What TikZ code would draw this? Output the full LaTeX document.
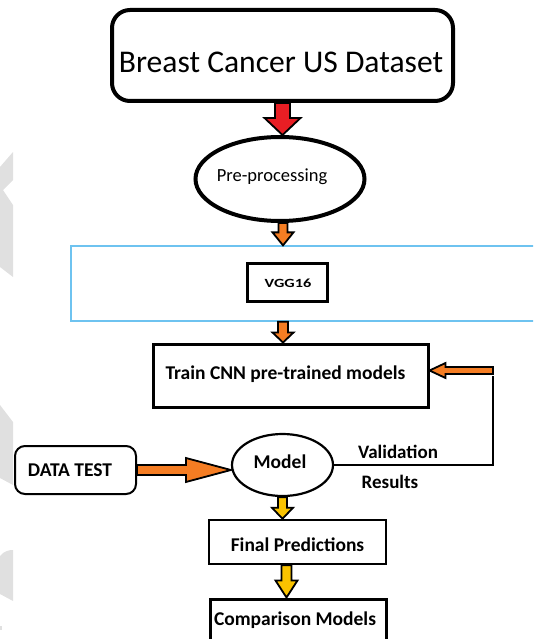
\documentclass[tikz,border=0pt]{standalone}
\usepackage{fontspec}
\setmainfont{Carlito}
\usetikzlibrary{shapes.geometric,calc}

\definecolor{arrred}{RGB}{232,30,36}
\definecolor{arrorange}{RGB}{245,125,35}
\definecolor{arryellow}{RGB}{250,195,0}
\definecolor{framblue}{RGB}{110,195,240}
\definecolor{markgray}{RGB}{224,224,224}

\tikzset{
  boxline/.style={draw=black, fill=white, inner sep=0pt},
  blockline/.style={draw=black, line width=1.8pt, line join=miter},
  lbl/.style={inner sep=0pt, font=\fontsize{19.5}{20}\selectfont\bfseries},
}

% downward block arrow: from, to, shaft half width, head half width, head length, fill
\newcommand\blockdown[6]{%
  \draw[blockline, fill=#6] let \p1=(#1), \p2=(#2) in
    (\x1-#3,\y1) -- (\x1+#3,\y1) -- (\x1+#3,\y2+#5) -- (\x1+#4,\y2+#5)
    -- (\x1,\y2) -- (\x1-#4,\y2+#5) -- (\x1-#3,\y2+#5) -- cycle;}
% rightward block arrow
\newcommand\blockright[6]{%
  \draw[blockline, fill=#6] let \p1=(#1), \p2=(#2) in
    (\x1,\y1+#3) -- (\x2-#5,\y1+#3) -- (\x2-#5,\y1+#4) -- (\x2,\y1)
    -- (\x2-#5,\y1-#4) -- (\x2-#5,\y1-#3) -- (\x1,\y1-#3) -- cycle;}
% leftward block arrow
\newcommand\blockleft[6]{%
  \draw[blockline, fill=#6] let \p1=(#1), \p2=(#2) in
    (\x1,\y1+#3) -- (\x2+#5,\y1+#3) -- (\x2+#5,\y1+#4) -- (\x2,\y1)
    -- (\x2+#5,\y1-#4) -- (\x2+#5,\y1-#3) -- (\x1,\y1-#3) -- cycle;}

\begin{document}
\begin{tikzpicture}[x=1pt, y=-1pt]
\useasboundingbox (0,0) rectangle (533,639);
\clip (0,0) rectangle (533,639);

% pale marks along the left edge
\fill[markgray] (0,167) -- (13,152) -- (13,180) -- (3,190) -- (13,205) -- (13,277) -- (0,267) -- cycle;
\fill[markgray] (0,405) -- (13,422) -- (13,485) -- (0,478) -- cycle;
\fill[markgray] (0,556) .. controls (4,551) and (9,550) .. (13,550) -- (13,601) -- (0,594) -- cycle;
\fill[markgray] (0,626) rectangle (2,630);

% boxes
\node[boxline, rounded corners=18pt, line width=4pt, minimum width=341pt, minimum height=91pt] (ds) at (282.5,55.5) {};
\node[inner sep=0pt, font=\fontsize{31.6}{32}\selectfont] (dsT) at (281,62) {Breast Cancer US Dataset};

\node[boxline, ellipse, line width=4pt, minimum width=169pt, minimum height=84pt] (pre) at (280,179) {};
\node[inner sep=0pt, font=\fontsize{18.5}{19}\selectfont] (preT) at (272,177) {Pre-processing};

\node[draw=framblue, line width=1.3pt, minimum width=470pt, minimum height=75pt, inner sep=0pt] (frame) at (306,283.5) {};

\node[boxline, line width=3pt, minimum width=80pt, minimum height=38pt] (vgg) at (287,282.5) {};
\node[inner sep=0pt, font=\fontsize{12.5}{13}\selectfont\bfseries] (vggT) at (288,283) {\scalebox{1.3}[1]{VGG16}};

\node[boxline, line width=3pt, minimum width=275pt, minimum height=63pt] (train) at (290.5,375.5) {};
\node[lbl] (trainT) at (285.5,374) {Train CNN pre-trained models};

\node[boxline, ellipse, line width=2.2pt, minimum width=101pt, minimum height=62pt] (model) at (282.5,465) {};
\node[lbl] (modelT) at (280,462) {Model};

\node[boxline, rounded corners=10pt, line width=2pt, minimum width=121pt, minimum height=48pt] (dt) at (75.5,470) {};
\node[lbl] (dtT) at (70,470) {DATA TEST};

\node[boxline, line width=2.5pt, minimum width=177pt, minimum height=44pt] (fp) at (297.5,542) {};
\node[lbl] (fpT) at (297.5,545) {Final Predictions};

\node[boxline, line width=3pt, minimum width=176pt, minimum height=52pt] (cm) at (298,625) {};
\node[lbl] (cmT) at (295,620) {Comparison Models};

% feedback line with labels
\coordinate (fb) at (493,465);
\draw[line width=2pt] (model.east) -- (fb) -- (fb |- train.east);
\node[lbl, font=\fontsize{19}{20}\selectfont\bfseries] (valT) at (398,452) {Validation};
\node[lbl, font=\fontsize{19}{20}\selectfont\bfseries] (resT) at (390,482) {Results};

% block arrows
\blockdown{ds.south}{pre.north}{7.5pt}{18pt}{17pt}{arrred}
\blockdown{$(pre.south)+(3,0)$}{frame.north}{4.5pt}{10.5pt}{13pt}{arrorange}
\blockdown{$(vgg.south |- frame.south)+(-4,0)$}{train.north}{5pt}{10.5pt}{10pt}{arrorange}
\blockdown{model.south}{fp.north}{4.5pt}{10.5pt}{11pt}{arryellow}
\blockdown{$(model.south |- fp.south)+(4,0)$}{cm.north}{5pt}{11pt}{17pt}{arryellow}
\blockright{dt.east}{model.west}{5pt}{12pt}{45pt}{arrorange}
\blockleft{$(fb |- train.east)+(0,-5)$}{$(train.east)+(0,-5)$}{3.5pt}{7.5pt}{16pt}{arrorange}
\end{tikzpicture}
\end{document}
